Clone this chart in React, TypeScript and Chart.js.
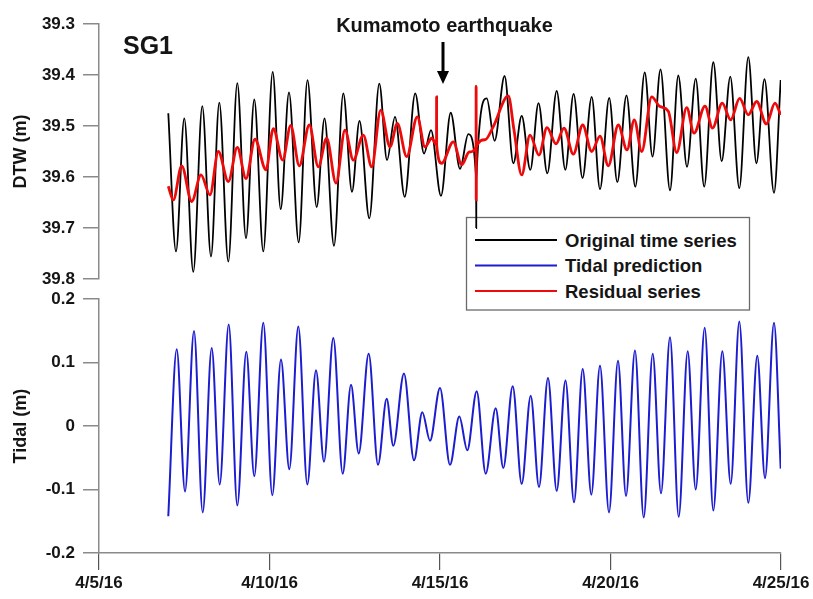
import React, { useEffect, useRef } from "react";
import { Chart, registerables } from "chart.js";
Chart.register(...registerables);

// ---- axis / label data ----
const dateLabels = ["4/5/16", "4/10/16", "4/15/16", "4/20/16", "4/25/16"];
const dayTicks = [0, 5, 10, 15, 20]; // days after 4/5/16
const dtwTicks = [39.3, 39.4, 39.5, 39.6, 39.7, 39.8];
const tidalTicks = [-0.2, -0.1, 0, 0.1, 0.2];
const legendLabels = ["Original time series", "Tidal prediction", "Residual series"];
const panelLabel = "SG1";
const eventLabel = "Kumamoto earthquake";

// ---- tidal prediction (m), days after 4/5/16 ----
const tidalDays = [
  2.032, 2.279, 2.522, 2.786, 3.041, 3.305, 3.540, 3.804, 4.056, 4.320,
  4.554, 4.818, 5.082, 5.337, 5.581, 5.845, 6.109, 6.364, 6.598, 6.871,
  7.147, 7.390, 7.616, 7.909, 8.182, 8.437, 8.630, 8.944, 9.238, 9.481,
  9.707, 10.000, 10.293, 10.566, 10.800, 11.076, 11.340, 11.633, 11.856, 12.132,
  12.396, 12.660, 12.903, 13.167, 13.422, 13.680, 13.930, 14.185, 14.437, 14.692,
  14.956, 15.220, 15.455, 15.718, 15.974, 16.238, 16.481, 16.745, 17.000, 17.264,
  17.499, 17.762, 18.015, 18.279, 18.525, 18.777, 19.041, 19.305, 19.531, 19.795,
  19.991,
];
const tidalValues = [
  -0.142, 0.121, -0.103, 0.150, -0.136, 0.123, -0.092, 0.160, -0.125, 0.117,
  -0.079, 0.163, -0.109, 0.105, -0.068, 0.157, -0.092, 0.088, -0.056, 0.139,
  -0.075, 0.065, -0.043, 0.114, -0.061, 0.043, -0.031, 0.083, -0.054, 0.022,
  -0.023, 0.060, -0.061, 0.015, -0.038, 0.055, -0.075, 0.028, -0.066, 0.063,
  -0.091, 0.048, -0.096, 0.076, -0.102, 0.072, -0.120, 0.090, -0.108, 0.095,
  -0.136, 0.103, -0.110, 0.119, -0.144, 0.114, -0.106, 0.140, -0.143, 0.118,
  -0.100, 0.155, -0.133, 0.118, -0.091, 0.165, -0.121, 0.111, -0.082, 0.163,
  -0.067,
];

// ---- original time series DTW (m) ----
const originalDays = [
  2.032, 2.258, 2.501, 2.765, 3.029, 3.284, 3.528, 3.792, 4.056, 4.311,
  4.554, 4.818, 5.094, 5.328, 5.572, 5.856, 6.114, 6.384, 6.613, 6.891,
  7.164, 7.419, 7.639, 7.927, 8.220, 8.446, 8.680, 8.965, 9.273, 9.531,
  9.736, 10.029, 10.314, 10.587, 10.830, 11.060, 11.063, 11.066, 11.370, 11.601,
  11.894, 12.150, 12.396, 12.648, 12.889, 13.147, 13.422, 13.675, 13.918, 14.179,
  14.449, 14.692, 14.962, 15.199, 15.469, 15.727, 16.003, 16.232, 16.466, 16.745,
  16.988, 17.243, 17.499, 17.748, 18.015, 18.261, 18.513, 18.777, 19.041, 19.279,
  19.516, 19.795, 19.991,
];
const originalValues = [
  39.475, 39.746, 39.485, 39.786, 39.461, 39.756, 39.454, 39.766, 39.416, 39.720,
  39.448, 39.746, 39.394, 39.663, 39.434, 39.728, 39.410, 39.659, 39.485, 39.735,
  39.436, 39.629, 39.490, 39.681, 39.417, 39.567, 39.482, 39.639, 39.436, 39.554,
  39.508, 39.637, 39.474, 39.584, 39.516, 39.604, 39.700, 39.604, 39.446, 39.529,
  39.402, 39.573, 39.480, 39.586, 39.455, 39.593, 39.431, 39.586, 39.437, 39.602,
  39.443, 39.624, 39.445, 39.610, 39.440, 39.619, 39.395, 39.560, 39.389, 39.626,
  39.401, 39.580, 39.407, 39.619, 39.375, 39.569, 39.403, 39.622, 39.365, 39.573,
  39.408, 39.631, 39.410,
];

// ---- residual series DTW (m) ----
const residualDays = [
  2.032, 2.179, 2.425, 2.718, 2.991, 3.255, 3.499, 3.792, 4.056, 4.311,
  4.575, 4.897, 5.111, 5.387, 5.622, 5.874, 6.167, 6.431, 6.677, 6.950,
  7.214, 7.458, 7.751, 7.997, 8.261, 8.534, 8.748, 9.023, 9.334, 9.560,
  9.757, 9.898, 9.900, 9.902, 10.050, 10.390, 10.636, 10.859, 11.058, 11.060,
  11.062, 11.064, 11.320, 11.563, 12.003, 12.170, 12.396, 12.639, 12.903, 13.138,
  13.402, 13.636, 13.909, 14.185, 14.449, 14.692, 14.935, 15.229, 15.484, 15.698,
  15.915, 16.208, 16.452, 16.695, 16.941, 17.235, 17.449, 17.771, 17.991, 18.276,
  18.525, 18.786, 19.041, 19.287, 19.569, 19.824, 19.991,
];
const residualValues = [
  39.618, 39.645, 39.578, 39.648, 39.596, 39.635, 39.550, 39.609, 39.542, 39.603,
  39.526, 39.586, 39.505, 39.567, 39.499, 39.578, 39.498, 39.580, 39.524, 39.612,
  39.508, 39.567, 39.518, 39.580, 39.469, 39.541, 39.495, 39.560, 39.482, 39.541,
  39.524, 39.537, 39.443, 39.537, 39.573, 39.531, 39.576, 39.551, 39.541, 39.422,
  39.645, 39.541, 39.527, 39.501, 39.441, 39.508, 39.596, 39.518, 39.557, 39.503,
  39.535, 39.504, 39.555, 39.498, 39.550, 39.520, 39.578, 39.498, 39.547, 39.488,
  39.550, 39.443, 39.462, 39.471, 39.552, 39.464, 39.514, 39.461, 39.504, 39.455,
  39.488, 39.446, 39.478, 39.452, 39.496, 39.455, 39.478,
];

const FONT = "'Liberation Sans', Arial, Helvetica, sans-serif";
const TEXT = "#151515";
const AXIS = "#8a8a8a";
const BLACK = "#000000";
const BLUE = "#1c1cd0";
const RED = "#ee0a0a";

const pts = (d: number[], v: number[]) => d.map((x, i) => ({ x, y: v[i] }));

export default function App() {
  const topRef = useRef<HTMLCanvasElement>(null);
  const botRef = useRef<HTMLCanvasElement>(null);

  useEffect(() => {
    Chart.defaults.font.family = FONT;
    const yWidth = (s: any) => {
      s.width = 99;
    };
    const common: any = {
      animation: false,
      responsive: false,
      devicePixelRatio: 1,
      elements: { point: { radius: 0 }, line: { cubicInterpolationMode: "monotone" } },
      plugins: { legend: { display: false }, tooltip: { enabled: false } },
    };

    const top = new Chart(topRef.current!, {
      type: "line",
      data: {
        datasets: [
          { label: legendLabels[2], data: pts(residualDays, residualValues), borderColor: RED, borderWidth: 2.8, order: 0 },
          { label: legendLabels[0], data: pts(originalDays, originalValues), borderColor: BLACK, borderWidth: 1.8, order: 1 },
        ],
      },
      options: {
        ...common,
        layout: { padding: { top: 24, bottom: 21, left: 0, right: 32 } },
        scales: {
          x: { type: "linear", min: 0, max: 20, display: false },
          y: {
            type: "linear",
            min: 39.3,
            max: 39.8,
            reverse: true,
            afterFit: yWidth,
            afterBuildTicks: (s: any) => {
              s.ticks = dtwTicks.map((v) => ({ value: v }));
            },
            ticks: {
              callback: (v: any) => Number(v).toFixed(1),
              font: { size: 17, weight: "bold" },
              color: TEXT,
              padding: 8,
            },
            grid: { drawOnChartArea: false, tickLength: 16, color: AXIS, lineWidth: 1.5 },
            border: { color: AXIS, width: 1.5 },
            title: { display: true, text: "DTW (m)", font: { size: 18, weight: "bold" }, color: TEXT, padding: { top: 10, bottom: 0 } },
          },
        },
      },
    } as any);

    const bot = new Chart(botRef.current!, {
      type: "line",
      data: {
        datasets: [
          { label: legendLabels[1], data: pts(tidalDays, tidalValues), borderColor: BLUE, borderWidth: 2 },
        ],
      },
      options: {
        ...common,
        layout: { padding: { top: 8, bottom: 0, left: 0, right: 32 } },
        scales: {
          x: {
            type: "linear",
            min: 0,
            max: 20,
            afterFit: (s: any) => {
              s.height = 46;
            },
            afterBuildTicks: (s: any) => {
              s.ticks = dayTicks.map((v) => ({ value: v }));
            },
            ticks: {
              callback: (_v: any, i: number) => dateLabels[i],
              font: { size: 17, weight: "bold" },
              color: TEXT,
              padding: 3,
              maxRotation: 0,
              autoSkip: false,
            },
            grid: { drawOnChartArea: false, tickLength: 17, color: "#555", lineWidth: 1.2 },
            border: { color: AXIS, width: 1.5 },
          },
          y: {
            type: "linear",
            min: -0.2,
            max: 0.2,
            afterFit: yWidth,
            afterBuildTicks: (s: any) => {
              s.ticks = tidalTicks.map((v) => ({ value: v }));
            },
            ticks: {
              callback: (v: any) => (Math.abs(Number(v)) < 1e-9 ? "0" : Number(v).toFixed(1)),
              font: { size: 17, weight: "bold" },
              color: TEXT,
              padding: 8,
            },
            grid: { drawOnChartArea: false, tickLength: 16, color: AXIS, lineWidth: 1.5 },
            border: { color: AXIS, width: 1.5 },
            title: { display: true, text: "Tidal (m)", font: { size: 18, weight: "bold" }, color: TEXT, padding: { top: 10, bottom: 0 } },
          },
        },
      },
    } as any);

    return () => {
      top.destroy();
      bot.destroy();
    };
  }, []);

  const legendRows = [
    { label: legendLabels[0], color: BLACK, y: 240 },
    { label: legendLabels[1], color: BLUE, y: 265.5 },
    { label: legendLabels[2], color: RED, y: 291 },
  ];

  return (
    <div style={{ position: "fixed", left: 0, top: 0, width: 813, height: 599, background: "#fff", overflow: "hidden" }}>
      <svg width={813} height={599} style={{ position: "absolute", left: 0, top: 0 }}>
        <rect x={466.5} y={217.5} width={283} height={92.5} fill="none" stroke="#6a6a6a" strokeWidth={1.3} />
        {legendRows.map((r) => (
          <g key={r.label}>
            <line x1={475} y1={r.y} x2={557} y2={r.y} stroke={r.color} strokeWidth={2} />
            <text x={565} y={r.y + 6.5} fontFamily={FONT} fontWeight="bold" fontSize={18.5} fill={TEXT}>
              {r.label}
            </text>
          </g>
        ))}
      </svg>
      <canvas ref={topRef} width={813} height={300} style={{ position: "absolute", left: 0, top: 0, width: 813, height: 300 }} />
      <canvas ref={botRef} width={813} height={318} style={{ position: "absolute", left: 0, top: 281, width: 813, height: 318 }} />
      <svg width={813} height={599} style={{ position: "absolute", left: 0, top: 0, pointerEvents: "none" }}>
        <text x={123} y={54} fontFamily={FONT} fontWeight="bold" fontSize={25} fill={TEXT}>
          {panelLabel}
        </text>
        <text x={444.5} y={32} textAnchor="middle" fontFamily={FONT} fontWeight="bold" fontSize={20} fill={TEXT}>
          {eventLabel}
        </text>
        <line x1={443} y1={42} x2={443} y2={72} stroke="#000" strokeWidth={3} />
        <polygon points="437,71 449,71 443,84" fill="#000" />
      </svg>
    </div>
  );
}
